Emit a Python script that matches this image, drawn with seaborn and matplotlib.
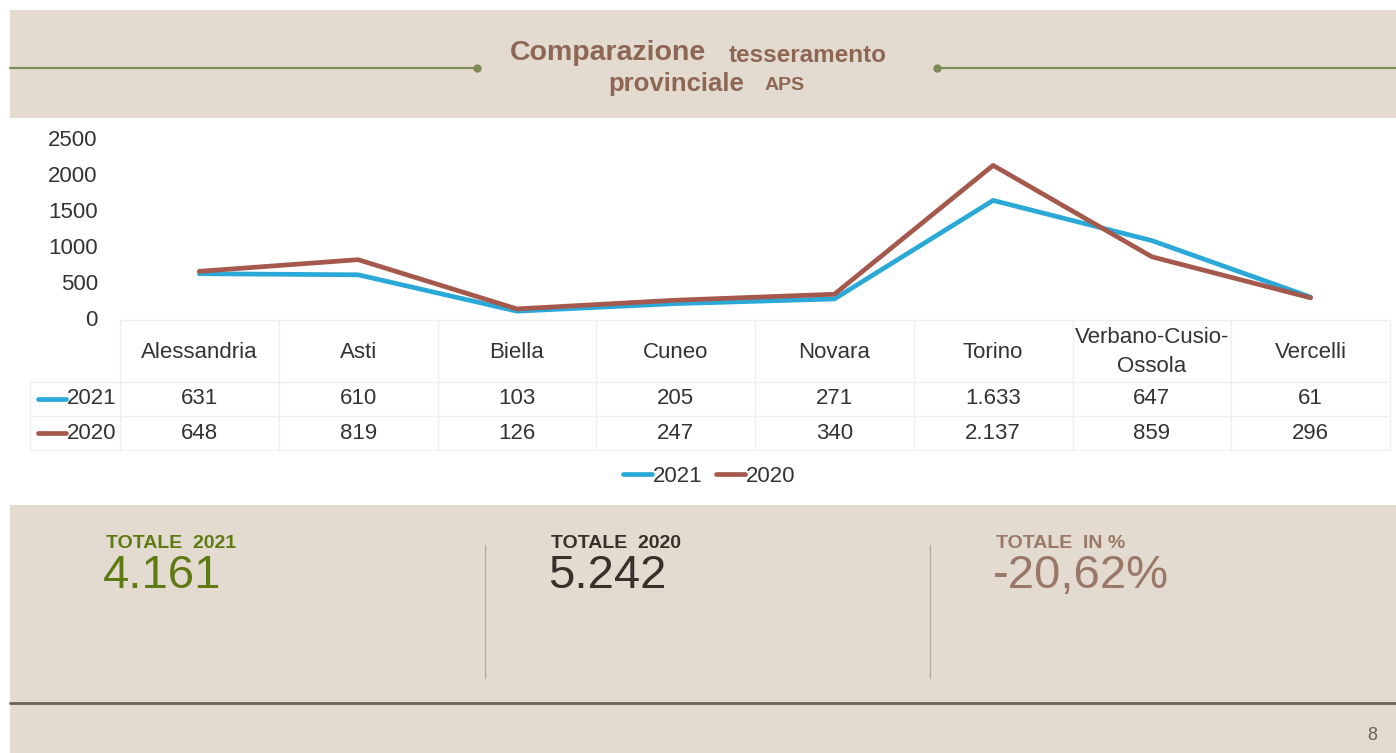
import matplotlib
matplotlib.use("Agg")
import matplotlib.pyplot as plt
from matplotlib.patches import Rectangle
from matplotlib.lines import Line2D
from matplotlib.transforms import blended_transform_factory
import seaborn as sns
import pandas as pd
import numpy as np

# ---------------- data ----------------
provinces = ["Alessandria", "Asti", "Biella", "Cuneo", "Novara", "Torino",
             "Verbano-Cusio-Ossola", "Vercelli"]
province_labels = ["Alessandria", "Asti", "Biella", "Cuneo", "Novara", "Torino",
                   "Verbano-Cusio-\nOssola", "Vercelli"]
line_2021 = [615, 600, 95, 200, 265, 1633, 1075, 290]
line_2020 = [648, 810, 126, 247, 330, 2120, 850, 280]
table_2021 = ["631", "610", "103", "205", "271", "1.633", "647", "61"]
table_2020 = ["648", "819", "126", "247", "340", "2.137", "859", "296"]
series_names = ["2021", "2020"]
y_ticks = [0, 500, 1000, 1500, 2000, 2500]
title_parts = ["Comparazione", "tesseramento", "provinciale", "APS"]
totals_labels = ["TOTALE  2021", "TOTALE  2020", "TOTALE  IN %"]
totals_values = ["4.161", "5.242", "-20,62%"]
page_number = "8"

# ---------------- style ----------------
sns.set_theme(style="white")
plt.rcParams["font.family"] = ["Liberation Sans", "DejaVu Sans"]

W, H = 1396, 753
fig = plt.figure(figsize=(W / 100, H / 100), dpi=100)
fig.patch.set_facecolor("white")

def fx(x):
    return x / W

def fy(y):
    return 1 - y / H

BAND = "#E4DBD0"
TITLE_BROWN = "#8E6654"
OLIVE = "#7E8A58"
BLUE = "#2AA8D8"
BROWN = "#A4594C"
TXT = "#333333"
GRID = "#EFEFEF"
FS = 16

# header band
fig.patches.append(Rectangle((fx(10), fy(118)), fx(W) - fx(10), fy(10) - fy(118),
                             transform=fig.transFigure, facecolor=BAND, edgecolor="none", zorder=0))
# bottom band
fig.patches.append(Rectangle((fx(10), fy(753)), fx(W) - fx(10), fy(505) - fy(753),
                             transform=fig.transFigure, facecolor=BAND, edgecolor="none", zorder=0))

# header decoration lines
for x0, x1, dotx in [(10, 477, 477), (937, W, 937)]:
    fig.add_artist(Line2D([fx(x0), fx(x1)], [fy(68), fy(68)], transform=fig.transFigure,
                          color=OLIVE, lw=1.6))
    fig.add_artist(Line2D([fx(dotx)], [fy(68)], transform=fig.transFigure,
                          marker="o", markersize=5, color=OLIVE, lw=0))

# title
fig.text(fx(706), fy(53), title_parts[0], ha="right", va="center", fontsize=20.5,
         fontweight="bold", color=TITLE_BROWN)
fig.text(fx(729), fy(55), title_parts[1], ha="left", va="center", fontsize=17.5,
         fontweight="bold", color=TITLE_BROWN)
fig.text(fx(608), fy(84), title_parts[2], ha="left", va="center", fontsize=18.5,
         fontweight="bold", color=TITLE_BROWN)
fig.text(fx(765), fy(85), title_parts[3], ha="left", va="center", fontsize=14,
         fontweight="bold", color=TITLE_BROWN)

# ---------------- line chart ----------------
ax = fig.add_axes([fx(120), fy(318), fx(1390) - fx(120), fy(138) - fy(318)])
ax.set_facecolor("none")
idx = list(range(len(provinces)))
df = pd.DataFrame({
    "idx": idx * 2,
    "value": line_2021 + line_2020,
    "year": [series_names[0]] * len(idx) + [series_names[1]] * len(idx),
})
sns.lineplot(data=df, x="idx", y="value", hue="year", hue_order=series_names,
             palette={series_names[0]: BLUE, series_names[1]: BROWN},
             sort=False, legend=False, ax=ax, linewidth=3.4)
for ln, z in zip(ax.get_lines(), [3, 4]):
    ln.set_solid_capstyle("round")
    ln.set_zorder(z)
ax.set_xlim(-0.5, len(provinces) - 0.5)
ax.set_ylim(0, 2500)
ax.set_yticks(y_ticks)
ax.set_yticklabels([str(t) for t in y_ticks], fontsize=FS, color=TXT)
ax.tick_params(axis="y", length=0, pad=16)
ax.set_xticks([])
ax.set_xlabel("")
ax.set_ylabel("")
for s in ax.spines.values():
    s.set_visible(False)

# ---------------- data table ----------------
tr = blended_transform_factory(ax.transData, fig.transFigure)
n = len(provinces)
for yy, xl in [(320, 120), (382, 30), (416, 30), (450, 30)]:
    fig.add_artist(Line2D([fx(xl), fx(1390)], [fy(yy), fy(yy)], transform=fig.transFigure,
                          color=GRID, lw=1))
for k in range(n + 1):
    xb = k - 0.5
    ax.add_artist(Line2D([xb, xb], [fy(320), fy(450)], transform=tr, color=GRID, lw=1,
                         clip_on=False))
fig.add_artist(Line2D([fx(30), fx(30)], [fy(382), fy(450)], transform=fig.transFigure,
                      color=GRID, lw=1))

for i in range(n):
    ax.text(i, fy(352), province_labels[i], transform=tr, ha="center", va="center",
            fontsize=FS, color=TXT, linespacing=1.5, clip_on=False)
    ax.text(i, fy(399), table_2021[i], transform=tr, ha="center", va="center",
            fontsize=FS, color=TXT, clip_on=False)
    ax.text(i, fy(433), table_2020[i], transform=tr, ha="center", va="center",
            fontsize=FS, color=TXT, clip_on=False)

for yy, col, name in [(399, BLUE, series_names[0]), (433, BROWN, series_names[1])]:
    fig.add_artist(Line2D([fx(38), fx(66)], [fy(yy), fy(yy)], transform=fig.transFigure,
                          color=col, lw=3.4))
    fig.text(fx(67), fy(yy), name, ha="left", va="center", fontsize=FS, color=TXT)

# legend
handles = [Line2D([], [], color=BLUE, lw=3.4), Line2D([], [], color=BROWN, lw=3.4)]
fig.legend(handles, series_names, loc="center", bbox_to_anchor=(fx(709), fy(476)),
           ncol=2, frameon=False, fontsize=FS, handlelength=1.3, handletextpad=0.05,
           columnspacing=0.6, labelcolor=TXT)

# ---------------- totals ----------------
tot_colors = ["#5E7A12", "#3A302B", "#9A7868"]
lab_x = [106, 551, 996]
for lx, lab, val, c in zip(lab_x, totals_labels, totals_values, tot_colors):
    fig.text(fx(lx), fy(543), lab, ha="left", va="center", fontsize=14,
             fontweight="bold", color=c)
    fig.text(fx(lx - 3), fy(576), val, ha="left", va="center", fontsize=34, color=c)

for sx in [485, 930]:
    fig.add_artist(Line2D([fx(sx), fx(sx)], [fy(545), fy(678)], transform=fig.transFigure,
                          color="#B9AC9E", lw=1))

fig.add_artist(Line2D([fx(10), fx(W)], [fy(703), fy(703)], transform=fig.transFigure,
                      color="#6E625A", lw=2))
fig.text(fx(1377), fy(735), page_number, ha="right", va="center", fontsize=13, color="#6A6058")

fig.savefig("out.png", dpi=100, facecolor=fig.get_facecolor())
